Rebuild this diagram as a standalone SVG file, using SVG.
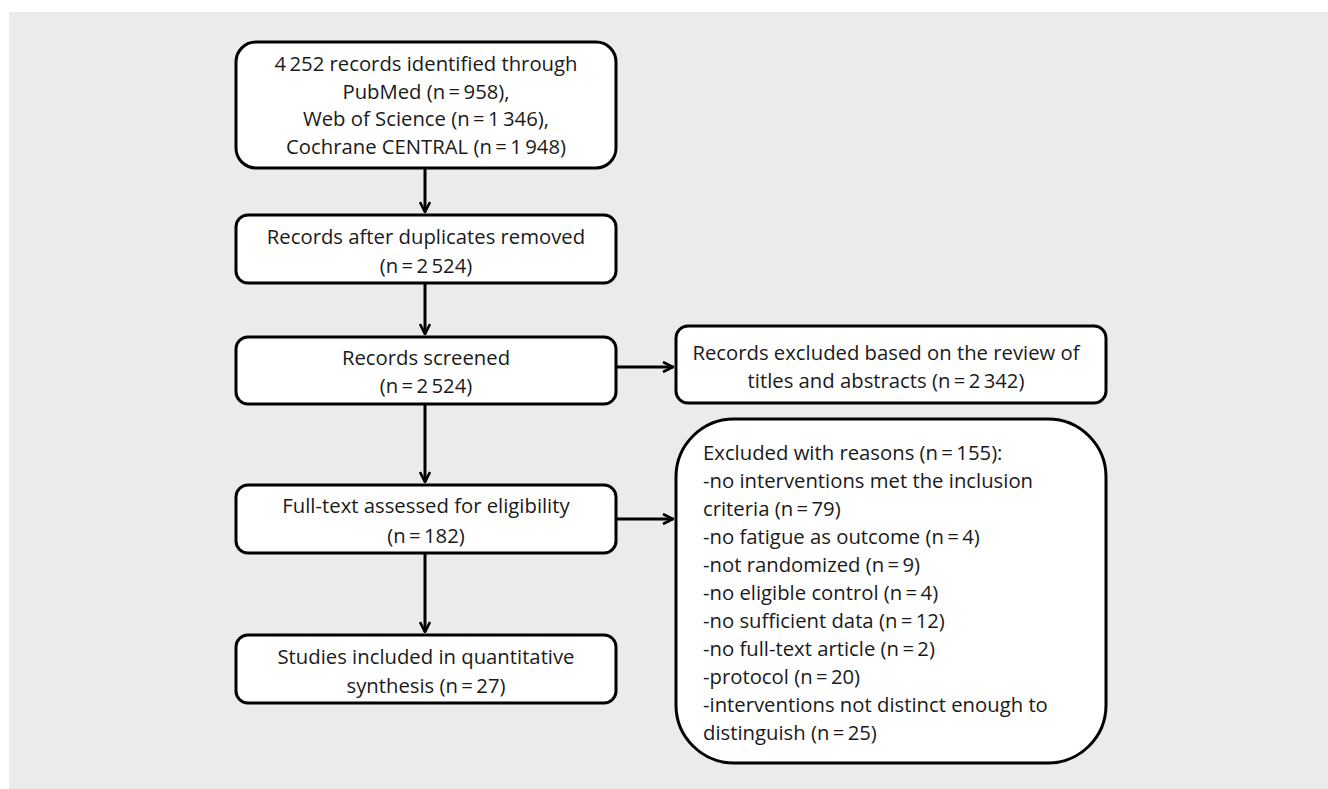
<svg xmlns="http://www.w3.org/2000/svg" width="1328" height="789" viewBox="0 0 1328 789">
<style>
.box{fill:#fff;stroke:#000;stroke-width:3}
.t{font-family:"Open Sans","Liberation Sans",Arial,sans-serif;font-size:20.3px;fill:#1a1a1a}
.c{text-anchor:middle}
.con{stroke:#000;stroke-width:3;fill:none}
</style>
<defs>
<marker id="ah" viewBox="0 0 12 12" refX="11" refY="6" markerWidth="12" markerHeight="12" markerUnits="userSpaceOnUse" orient="auto">
<path d="M1,1 L11,6 L1,11" fill="none" stroke="#000" stroke-width="2.6"/>
</marker>
</defs>
<rect x="0" y="0" width="1328" height="789" fill="#fff"/>
<rect x="9" y="12" width="1319" height="777" fill="#ebebeb"/>
<g id="connectors">
<line class="con" x1="425" y1="168" x2="425" y2="212" marker-end="url(#ah)"/>
<line class="con" x1="425" y1="283" x2="425" y2="334" marker-end="url(#ah)"/>
<line class="con" x1="425" y1="404" x2="425" y2="482" marker-end="url(#ah)"/>
<line class="con" x1="425" y1="553" x2="425" y2="632" marker-end="url(#ah)"/>
<line class="con" x1="616" y1="367" x2="673" y2="367" marker-end="url(#ah)"/>
<line class="con" x1="616" y1="519" x2="673" y2="519" marker-end="url(#ah)"/>
</g>
<g id="identified">
<rect class="box" x="236" y="42" width="380" height="126" rx="20"/>
<text class="t c" x="426" y="71">4&#8201;252 records identified through</text>
<text class="t c" x="426" y="98.5">PubMed (n&#8201;=&#8201;958),</text>
<text class="t c" x="426" y="126">Web of Science (n&#8201;=&#8201;1&#8201;346),</text>
<text class="t c" x="426" y="154">Cochrane CENTRAL (n&#8201;=&#8201;1&#8201;948)</text>
</g>
<g id="duplicates">
<rect class="box" x="236" y="215" width="380" height="68" rx="12"/>
<text class="t c" x="426" y="244">Records after duplicates removed</text>
<text class="t c" x="426" y="273">(n&#8201;=&#8201;2&#8201;524)</text>
</g>
<g id="screened">
<rect class="box" x="236" y="337" width="380" height="67" rx="12"/>
<text class="t c" x="426" y="365">Records screened</text>
<text class="t c" x="426" y="393">(n&#8201;=&#8201;2&#8201;524)</text>
</g>
<g id="fulltext">
<rect class="box" x="236" y="485" width="380" height="68" rx="12"/>
<text class="t c" x="426" y="513">Full-text assessed for eligibility</text>
<text class="t c" x="426" y="543">(n&#8201;=&#8201;182)</text>
</g>
<g id="included">
<rect class="box" x="236" y="635" width="380" height="68" rx="12"/>
<text class="t c" x="426" y="664">Studies included in quantitative</text>
<text class="t c" x="426" y="693">synthesis (n&#8201;=&#8201;27)</text>
</g>
<g id="excluded-titles">
<rect class="box" x="676" y="326" width="430" height="77" rx="12"/>
<text class="t c" x="886" y="360">Records excluded based on the review of</text>
<text class="t c" x="886" y="388">titles and abstracts (n&#8201;=&#8201;2&#8201;342)</text>
</g>
<g id="excluded-reasons">
<rect class="box" x="676" y="419" width="430" height="344" rx="58"/>
<text class="t" x="703" y="460">Excluded with reasons (n&#8201;=&#8201;155):</text>
<text class="t" x="703" y="488">-no interventions met the inclusion</text>
<text class="t" x="703" y="516">criteria (n&#8201;=&#8201;79)</text>
<text class="t" x="703" y="544">-no fatigue as outcome (n&#8201;=&#8201;4)</text>
<text class="t" x="703" y="572">-not randomized (n&#8201;=&#8201;9)</text>
<text class="t" x="703" y="600">-no eligible control (n&#8201;=&#8201;4)</text>
<text class="t" x="703" y="628">-no sufficient data (n&#8201;=&#8201;12)</text>
<text class="t" x="703" y="656">-no full-text article (n&#8201;=&#8201;2)</text>
<text class="t" x="703" y="684">-protocol (n&#8201;=&#8201;20)</text>
<text class="t" x="703" y="712">-interventions not distinct enough to</text>
<text class="t" x="703" y="740">distinguish (n&#8201;=&#8201;25)</text>
</g>
</svg>
